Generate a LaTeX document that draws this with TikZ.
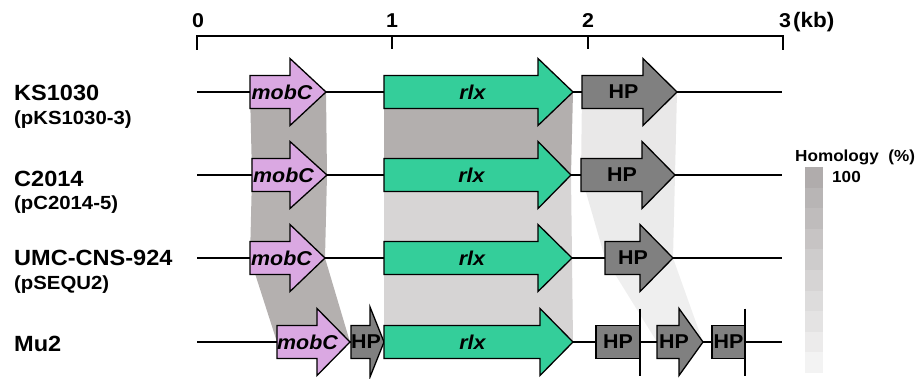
\documentclass[tikz,border=0pt]{standalone}
\usepackage{fontspec}
\setmainfont{Liberation Sans}[FakeStretch=1.07]
\definecolor{mobcol}{RGB}{218,168,226}
\definecolor{rlxcol}{RGB}{52,206,154}
\definecolor{hpcol}{RGB}{128,128,128}
\definecolor{hmTop}{RGB}{176,172,172}
\definecolor{hmBot}{RGB}{243,243,243}
\newcommand{\fs}[1]{\fontsize{#1}{#1}\selectfont\bfseries}
% #1 left, #2 head start, #3 tip, #4 row y, #5 fill, #6 label, #7 name
\newcommand{\genearr}[7]{%
  \draw[genebox,fill=#5] (#1,#4-16.5) -- (#2,#4-16.5) -- (#2,#4-33.5) -- (#3,#4)
    -- (#2,#4+33.5) -- (#2,#4+16.5) -- (#1,#4+16.5) -- cycle;
  \node[genelbl] (#7) at ({(#1+#3)/2-6},#4) {#6};}
\newcommand{\trunc}[5]{%
  \draw[genebox,fill=hpcol] (#1,#3-16.5) rectangle (#2,#3+16.5);
  \draw[genebox] (#2,#3-33.5) -- (#2,#3+33.5);
  \node[genelbl] (#5) at ({(#1+#2)/2},#3) {#4};}
\tikzset{
  genebox/.style={draw=black,line width=1.3pt,line join=miter},
  genelbl/.style={font=\fs{20},inner sep=0pt},
  backbone/.style={line width=1.5pt},
  strain/.style={font=\fs{22},anchor=base west,inner sep=0pt},
  plasmid/.style={font=\fs{19},anchor=base west,inner sep=0pt},
  scalelbl/.style={font=\fs{20},anchor=base,inner sep=0pt},
}
\begin{document}
\begin{tikzpicture}[x=1pt,y=-1pt]
\useasboundingbox (0,0) rectangle (920,378);
% homology bands
\fill[color={rgb,255:red,177;green,173;blue,172}] (250,92) -- (326,92) -- (327,175) -- (252,175) -- cycle;
\fill[color={rgb,255:red,179;green,175;blue,174}] (384,92) -- (573,92) -- (571,175) -- (384,175) -- cycle;
\fill[color={rgb,255:red,233;green,232;blue,232}] (582,92) -- (677,92) -- (675,175) -- (581,175) -- cycle;
\fill[color={rgb,255:red,182;green,178;blue,177}] (252,175) -- (327,175) -- (325,258) -- (250,258) -- cycle;
\fill[color={rgb,255:red,215;green,213;blue,213}] (384,175) -- (571,175) -- (572,258) -- (384,258) -- cycle;
\fill[color={rgb,255:red,235;green,235;blue,235}] (581,175) -- (675,175) -- (673,258) -- (605,258) -- cycle;
\fill[color={rgb,255:red,180;green,176;blue,175}] (250,258) -- (325,258) -- (350,342) -- (277,342) -- cycle;
\fill[color={rgb,255:red,214;green,212;blue,212}] (384,258) -- (572,258) -- (573,342) -- (384,342) -- cycle;
\fill[color={rgb,255:red,239;green,239;blue,239}] (605,258) -- (673,258) -- (703,342) -- (657,342) -- cycle;
% scale bar
\coordinate (s0) at (197,36); \coordinate (s1) at (392,36);
\coordinate (s2) at (588,36); \coordinate (s3) at (783,36);
\draw[line width=2pt,line cap=rect] (197,49) -- (s0) -- (s3) -- (783,49);
\draw[line width=2pt] (s1) -- (392,49);
\draw[line width=2pt] (s2) -- (588,49);
\node[scalelbl] (t0) at (198,27) {0};
\node[scalelbl] (t1) at (392,27) {1};
\node[scalelbl] (t2) at (588,27) {2};
\node[scalelbl] (t3) at (785,27) {3};
\node[font=\fs{21},anchor=base west,inner sep=0pt] (kb) at (793,27) {(kb)};
% strain labels
\node[strain] (n1) at (14,100) {KS1030};
\node[plasmid] (p1) at (14,124) {(pKS1030-3)};
\node[strain] (n2) at (14,186) {C2014};
\node[plasmid] (p2) at (14,209) {(pC2014-5)};
\node[strain] (n3) at (14,265) {UMC-CNS-924};
\node[plasmid] (p3) at (14,289) {(pSEQU2)};
\node[strain] (n4) at (14,351) {Mu2};
% backbones
\draw[backbone] (197,92) -- (782,92);
\draw[backbone] (197,175) -- (782,175);
\draw[backbone] (197,258) -- (782,258);
\draw[backbone] (197,342) -- (782,342);
% row 1
\genearr{250}{290}{326}{92}{mobcol}{\itshape mobC}{m1}
\genearr{384}{538}{573}{92}{rlxcol}{\itshape rlx}{r1}
\genearr{582}{643}{677}{92}{hpcol}{HP}{h1}
% row 2
\genearr{252}{290}{327}{175}{mobcol}{\itshape mobC}{m2}
\genearr{384}{538}{571}{175}{rlxcol}{\itshape rlx}{r2}
\genearr{581}{642}{675}{175}{hpcol}{HP}{h2}
% row 3
\genearr{250}{290}{325}{258}{mobcol}{\itshape mobC}{m3}
\genearr{384}{538}{572}{258}{rlxcol}{\itshape rlx}{r3}
\genearr{605}{640}{673}{258}{hpcol}{HP}{h3}
% row 4
\genearr{277}{317}{350}{342}{mobcol}{\itshape mobC}{m4}
\draw[genebox,fill=hpcol] (351,325.5) -- (370,325.5) -- (370,307) -- (384,342) -- (370,377) -- (370,358.5) -- (351,358.5) -- cycle;
\node[genelbl] (h4a) at (366,342) {HP};
\genearr{384}{540}{573}{342}{rlxcol}{\itshape rlx}{r4}
\trunc{596}{640}{342}{HP}{h4b}
\genearr{657}{679}{703}{342}{hpcol}{HP}{h4c}
\trunc{712}{745}{342}{HP}{h4d}
% legend
\node[font=\fs{16},anchor=base west,inner sep=0pt] (legt) at (795,161) {Homology \ (\%)};
\foreach \i in {0,...,9} {
  \pgfmathtruncatemacro{\p}{100-\i*100/9}
  \fill[color=hmTop!\p!hmBot] (805,{167+\i*20.6}) rectangle (823,{167+(\i+1)*20.6+0.3});
}
\node[font=\fs{16},anchor=base west,inner sep=0pt] (leg100) at (832,182) {100};
\end{tikzpicture}
\end{document}
